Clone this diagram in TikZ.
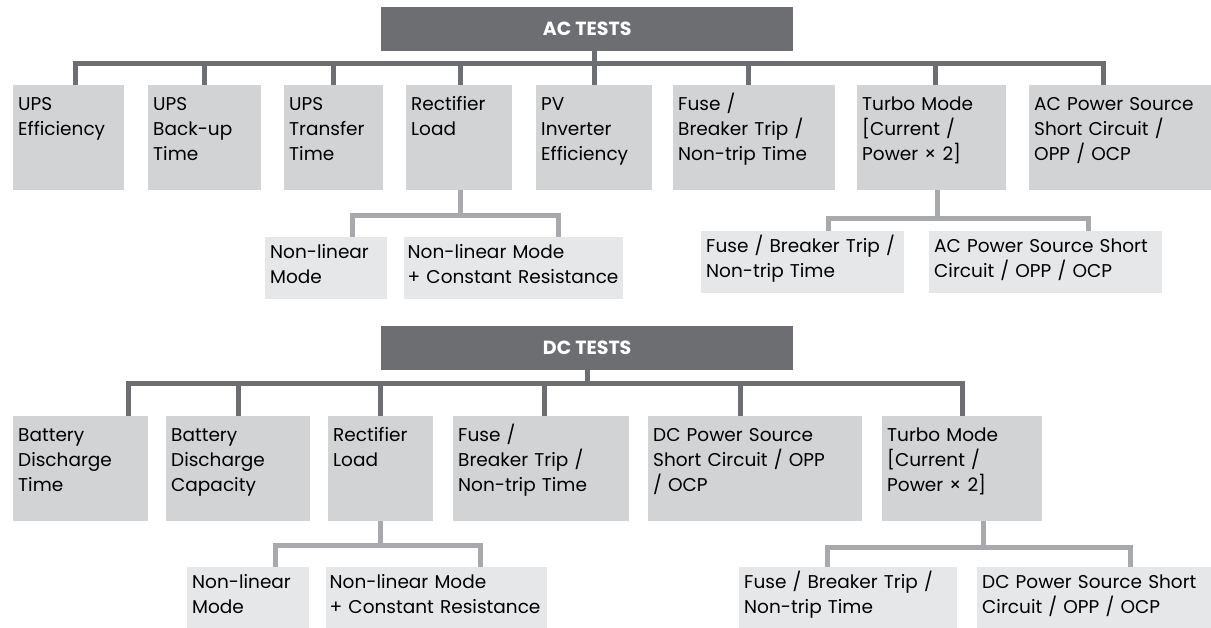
\documentclass[tikz,border=0pt]{standalone}
\usepackage{fontspec}
\setmainfont{Poppins}
\definecolor{headgrey}{HTML}{6D6E71}
\definecolor{boxgrey}{HTML}{D1D3D4}
\definecolor{subgrey}{HTML}{E6E7E8}
\definecolor{linegrey}{HTML}{A7A9AC}

\begin{document}
\begin{tikzpicture}[x=1pt,y=-1pt,
        every node/.style={anchor=north west,align=left,font=\fontsize{18.5}{25}\selectfont},
        test/.style={fill=boxgrey,inner xsep=5pt,inner ysep=4pt,text height=21pt,text depth=76pt},
        subtest/.style={fill=subgrey,inner xsep=5pt,inner ysep=4pt,text height=17pt,text depth=37pt},
        head/.style={fill=headgrey,text=white,align=center,minimum width=412pt,minimum height=44pt,
                     inner sep=0pt,font=\fontsize{19}{22}\selectfont\bfseries},
        bus/.style={draw=headgrey,line width=5pt},
        subbus/.style={draw=linegrey,line width=5pt}]
        \useasboundingbox (0,0) rectangle (1211,627);

        % AC tests
        \node[head] (achead) at (381,7) {AC TESTS};
        \node[test,text width=101pt] (upse) at (13,85) {UPS\\Efficiency};
        \node[test,text width=103pt] (upsb) at (148,85) {UPS\\Back-up\\Time};
        \node[test,text width=89pt] (upst) at (284,85) {UPS\\Transfer\\Time};
        \node[test,text width=96pt] (rect) at (406,85) {Rectifier\\Load};
        \node[test,text width=106pt] (pv) at (536,85) {PV\\Inverter\\Efficiency};
        \node[test,text width=152pt] (fuse) at (673,85) {Fuse /\\Breaker Trip /\\Non-trip Time};
        \node[test,text width=139pt] (turbo) at (857,85) {Turbo Mode\\{[}Current /\\Power × 2]};
        \node[test,text width=172pt] (acpwr) at (1029,85) {AC Power Source\\Short Circuit /\\OPP / OCP};
        \node[subtest,text width=112pt] (nla) at (265,237) {Non-linear\\Mode};
        \node[subtest,inner xsep=3.5pt,text width=212pt] (nlb) at (404,237) {Non-linear Mode\\+ Constant Resistance};
        \node[subtest,text width=193pt] (fusea) at (701,231) {Fuse / Breaker Trip /\\Non-trip Time};
        \node[subtest,text width=223pt] (acsc) at (929,231) {AC Power Source Short\\Circuit / OPP / OCP};

        \draw[bus] ([xshift=6.5pt]upse.north) -- ++(0,-22) coordinate (acbus) -| ([xshift=-17pt]acpwr.north);
        \draw[bus] (achead.south -| pv.north) -- (pv.north);
        \foreach \n/\d in {upsb/0,upst/0,rect/1,fuse/-6,turbo/3.5}
            \draw[bus] ([xshift=\d pt]\n.north) -- ([xshift=\d pt]\n.north |- acbus);
        \draw[subbus] ([xshift=26pt]nla.north) -- ++(0,-22) coordinate (acrb) -| ([xshift=44.5pt]nlb.north);
        \draw[subbus] ([xshift=1pt]rect.south) -- ([xshift=1pt]rect.south |- acrb);
        \draw[subbus] ([xshift=25.5pt]fusea.north) -- ++(0,-13) coordinate (actb) -| ([xshift=42.5pt]acsc.north);
        \draw[subbus] ([xshift=5.5pt]turbo.south) -- ([xshift=5.5pt]turbo.south |- actb);

        % DC tests
        \node[head] (dchead) at (381,326) {DC TESTS};
        \node[test,text width=125pt] (bdt) at (13,416) {Battery\\Discharge\\Time};
        \node[test,text width=134pt] (bdc) at (166,416) {Battery\\Discharge\\Capacity};
        \node[test,text width=95pt] (drect) at (328,416) {Rectifier\\Load};
        \node[test,text width=166pt] (dfuse) at (453,416) {Fuse /\\Breaker Trip /\\Non-trip Time};
        \node[test,text width=204pt] (dcpwr) at (648,416) {DC Power Source\\Short Circuit / OPP\\/ OCP};
        \node[test,text width=150pt] (dturbo) at (882,416) {Turbo Mode\\{[}Current /\\Power × 2]};
        \node[subtest,text width=112pt] (nlc) at (187,567) {Non-linear\\Mode};
        \node[subtest,inner xsep=3.5pt,text width=214pt] (nld) at (326,567) {Non-linear Mode\\+ Constant Resistance};
        \node[subtest,text width=208pt] (fuseb) at (739,567) {Fuse / Breaker Trip /\\Non-trip Time};
        \node[subtest,text width=224pt] (dcsc) at (977,567) {DC Power Source Short\\Circuit / OPP / OCP};

        \draw[bus] ([xshift=47.5pt]bdt.north) -- ++(0,-33) coordinate (dcbus) -| (dturbo.north);
        \draw[bus] (dchead.south) -- (dchead.south |- dcbus);
        \foreach \n/\d in {bdc/0,drect/0,dfuse/3,dcpwr/-15}
            \draw[bus] ([xshift=\d pt]\n.north) -- ([xshift=\d pt]\n.north |- dcbus);
        \draw[subbus] ([xshift=27pt]nlc.north) -- ++(0,-22) coordinate (dcrb) -| ([xshift=43.5pt]nld.north);
        \draw[subbus] (drect.south) -- (drect.south |- dcrb);
        \draw[subbus] ([xshift=-21pt]fuseb.north) -- ++(0,-20) coordinate (dctb) -| ([xshift=36pt]dcsc.north);
        \draw[subbus] ([xshift=21pt]dturbo.south) -- ([xshift=21pt]dturbo.south |- dctb);
\end{tikzpicture}
\end{document}
